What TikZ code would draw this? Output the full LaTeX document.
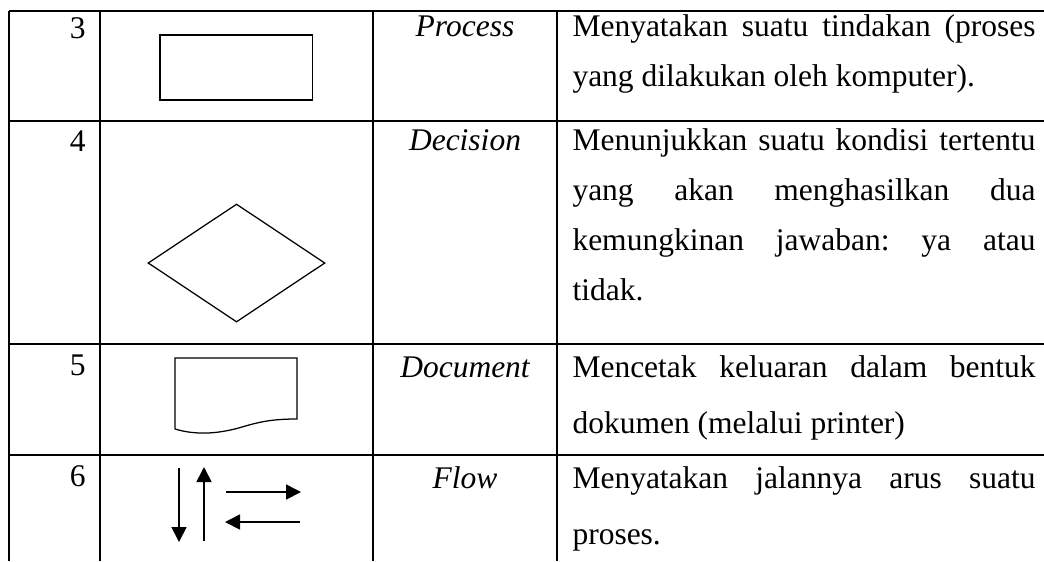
\documentclass[tikz,border=0pt]{standalone}
\usepackage{fontspec}
\setmainfont{Liberation Serif}
\usetikzlibrary{shapes.geometric}
\usetikzlibrary{arrows.meta}
\newcommand{\tblfont}{\fontsize{12.6}{20}\selectfont}
\newcommand{\tblfontwide}{\fontsize{12.6}{22.4}\selectfont}
\tolerance=10000
\hyphenpenalty=10000
\frenchspacing

\begin{document}
\begin{tikzpicture}[x=0.4pt,y=-0.4pt,
        rule/.style={line width=0.75pt},
        sym/.style={draw, line width=0.5pt, inner sep=0pt},
        nr/.style={anchor=base east, inner sep=0pt, font=\tblfont},
        lbl/.style={anchor=base, inner sep=0pt, font=\tblfont\itshape},
        dsc/.style={anchor=base west, inner sep=0pt, text width=185.2pt,
            align=justify, font=\tblfont},
        >={Triangle[length=6pt,width=6pt]}]
    \useasboundingbox (0,0) rectangle (1044,561);
    % table rules
    \foreach \y in {10.7,121,344,455}
        \draw[rule] (9,\y) -- (1044,\y);
    \foreach \x in {9,100,373,557}
        \draw[rule] (\x,10.7) -- (\x,561);
    % row 3
    \node[nr] (n3) at (86,38) {3};
    \node[sym, rectangle, minimum width=61pt, minimum height=26pt] (proc) at (236.3,67.5) {};
    \node[lbl] (l3) at (465,36) {Process};
    \node[dsc] (d3) at (572,36)
        {Menyatakan suatu tindakan (proses\linebreak yang dilakukan oleh komputer).};
    % row 4
    \node[nr] (n4) at (86,151) {4};
    \node[sym, diamond, minimum width=70.8pt, minimum height=47.2pt] (dec) at (236.5,263) {};
    \node[lbl] (l4) at (465,150) {Decision};
    \node[dsc] (d4) at (572,150)
        {Menunjukkan suatu kondisi tertentu\linebreak yang akan menghasilkan dua\linebreak
        kemungkinan jawaban: ya atau\linebreak tidak.};
    % row 5
    \node[nr] (n5) at (86,375) {5};
    \draw[line width=0.5pt] (175,429) -- (175,358) -- (297,358) -- (297,419)
        .. controls (275,419) and (262,421) .. (242,427)
        .. controls (222,433) and (198,436) .. (175,429);
    \node[lbl] (l5) at (465,377) {Document};
    \node[dsc, font=\tblfontwide] (d5) at (572,377)
        {Mencetak keluaran dalam bentuk\linebreak dokumen (melalui printer)};
    % row 6
    \node[nr] (n6) at (86,486) {6};
    \coordinate (dn1) at (179,468);
    \coordinate (dn2) at (179,542);
    \coordinate (up1) at (204,541);
    \coordinate (up2) at (204,467);
    \coordinate (rt1) at (226,492);
    \coordinate (rt2) at (301,492);
    \coordinate (lt1) at (300,522);
    \coordinate (lt2) at (225,522);
    \draw[->, line width=0.7pt] (dn1) -- (dn2);
    \draw[->, line width=0.7pt] (up1) -- (up2);
    \draw[->, line width=0.7pt] (rt1) -- (rt2);
    \draw[->, line width=0.7pt] (lt1) -- (lt2);
    \node[lbl] (l6) at (465,488) {Flow};
    \node[dsc, font=\tblfontwide] (d6) at (572,488)
        {Menyatakan jalannya arus suatu\linebreak proses.};
\end{tikzpicture}
\end{document}
